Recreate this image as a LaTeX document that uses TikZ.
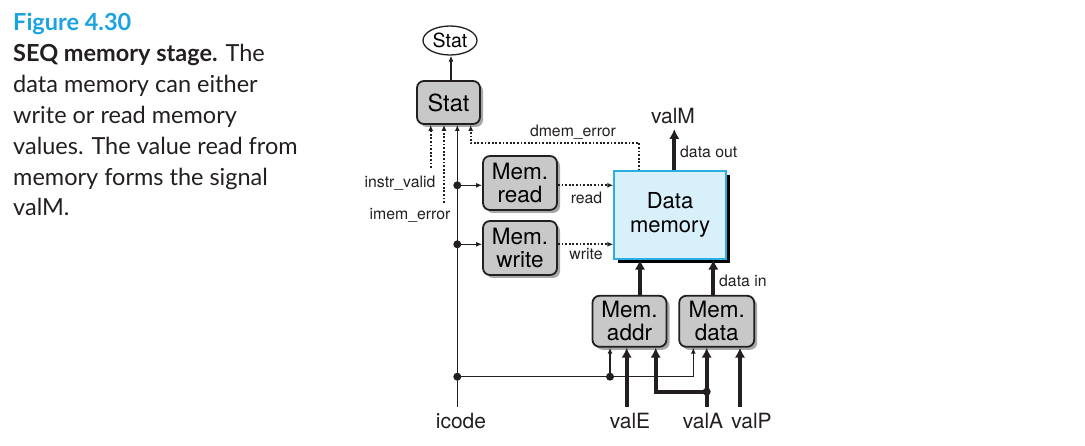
\documentclass[tikz,border=0pt]{standalone}
\usepackage{fontspec}
\setmainfont{TeX Gyre Heros}
\newfontfamily\capfont{Lato}
\usetikzlibrary{arrows.meta,shapes.geometric,shadows}
\definecolor{figblue}{HTML}{1BA3E0}
\definecolor{boxgray}{HTML}{C8C8C8}
\definecolor{shgray}{HTML}{A8A8A8}
\definecolor{memfill}{HTML}{D7F0FA}
\definecolor{memline}{HTML}{2AAFE5}
\definecolor{ink}{HTML}{231F20}
\begin{document}
\begin{tikzpicture}[x=1pt,y=-1pt,
 ctrl/.style={draw=ink, line width=1.8pt, rounded corners=7pt, fill=boxgray,
   minimum width=74pt, minimum height=54pt, align=center, inner sep=0pt,
   font=\fontsize{22.5}{23}\selectfont,
   drop shadow={shadow xshift=3pt, shadow yshift=-3pt, fill=shgray, opacity=1}},
 wthin/.style={line width=1.3pt, draw=ink},
 wthick/.style={line width=4pt, draw=ink},
 wdots/.style={line width=1.8pt, dash pattern=on 1.8pt off 1.8pt, draw=ink},
 tipS/.style={-{Latex[length=6pt,width=5pt]}},
 tipL/.style={-{Latex[length=10pt,width=10.5pt]}},
 lbl/.style={font=\fontsize{15.8}{18}\selectfont, inner sep=0pt, text=ink},
 bigl/.style={font=\fontsize{21}{24}\selectfont, inner sep=0pt, text=ink},
 jdot/.style={circle, fill=ink, inner sep=0pt, minimum size=8pt},
 captxt/.style={anchor=base west, inner sep=0pt, text=ink, font=\capfont\fontsize{23.5}{26}\selectfont},
]
\useasboundingbox (0,0) rectangle (1085,446);

% caption
\node[captxt, text=figblue, font=\capfont\bfseries\fontsize{23.5}{26}\selectfont] (c0) at (13,31) {Figure 4.30};
\node[captxt] (c1) at (13,62) {\textbf{SEQ memory stage.} The};
\node[captxt] (c2) at (13,92.8) {data memory can either};
\node[captxt] (c3) at (13,123.6) {write or read memory};
\node[captxt] (c4) at (13,154.4) {values. The value read from};
\node[captxt] (c5) at (13,185.2) {memory forms the signal};
\node[captxt] (c6) at (13,216) {valM.};

% blocks
\node[ellipse, draw=ink, line width=1.3pt, minimum width=54pt, minimum height=29pt, inner sep=0pt,
  font=\fontsize{19.5}{20}\selectfont] (statE) at (450,40.5) {Stat};
\node[ctrl, minimum width=63pt, minimum height=43pt, font=\fontsize{23.5}{24}\selectfont] (stat) at (448.5,102.5) {Stat};
\node[ctrl] (memread) at (520,183) {Mem.\\read};
\node[ctrl] (memwrite) at (520,248) {Mem.\\write};
\node[draw=memline, fill=memfill, line width=1.3pt, minimum width=112pt, minimum height=88pt,
  align=center, inner sep=0pt, font=\fontsize{22}{24}\selectfont,
  drop shadow={shadow xshift=4pt, shadow yshift=-4pt, fill=black, opacity=1}] (datamem) at (670,215) {Data\\memory};
\node[ctrl, minimum height=51pt] (memaddr) at (629.5,321.3) {Mem.\\addr};
\node[ctrl, minimum width=75pt, minimum height=51pt] (memdata) at (716.7,321.3) {Mem.\\data};

% labels
\node[lbl] (lIV) at (400,182.7) {instr\_valid};
\node[lbl] (lIM) at (410,215) {imem\_error};
\node[lbl] (lDM) at (573,131.7) {dmem\_error};
\node[lbl] (lRd) at (586.5,197.7) {read};
\node[lbl] (lWr) at (586,254) {write};
\node[lbl, anchor=west] (lDO) at (680,152) {data out};
\node[lbl, anchor=west] (lDI) at (719,281) {data in};
\node[bigl] (valM) at (673,116.5) {valM};
\node[bigl] (icode) at (461,420.7) {icode};
\node[bigl] (valE) at (630,420.7) {valE};
\node[bigl] (valA) at (703,420.7) {valA};
\node[bigl] (valP) at (751.5,420.7) {valP};

% coordinates
\coordinate (sx) at (451,0);
\coordinate (ax) at (640,0);
\coordinate (dx) at (713.3,0);
\coordinate (ivT) at (430.7,168);
\coordinate (imT) at (444,203);
\coordinate (icS) at (457.3,406.7);
\coordinate (j1) at (457.3,185.3);
\coordinate (j2) at (457.3,244.3);
\coordinate (j3) at (457.3,376.7);
\coordinate (j4) at (610,376.7);
\coordinate (dtC) at (693.3,376.7);
\coordinate (dmC) at (639.3,143.3);
\coordinate (dmS) at (470.7,143.3);
\coordinate (vmT) at (674.3,129);
\coordinate (veS) at (626.7,406.7);
\coordinate (vaS) at (706.7,406.7);
\coordinate (j5) at (706.7,391.7);
\coordinate (vaL) at (655.7,391.7);
\coordinate (vpS) at (740,406.7);

% connectors
\draw[wthin, tipS] (sx |- stat.north) -- (sx |- statE.south);
\draw[wdots, tipS] (ivT) -- (ivT |- stat.south);
\draw[wdots, tipS] (imT) -- (imT |- stat.south);
\draw[wthin, tipS] (icS) -- (icS |- stat.south);
\draw[wdots, tipS] (dmC |- datamem.north) -- (dmC) -- (dmS) -- (dmS |- stat.south);
\draw[wthin, tipS] (j1) -- (j1 -| memread.west);
\draw[wthin, tipS] (j2) -- (j2 -| memwrite.west);
\draw[wdots, tipS] (j1 -| memread.east) -- (j1 -| datamem.west);
\draw[wdots, tipS] (j2 -| memwrite.east) -- (j2 -| datamem.west);
\draw[wthick, tipL] (vmT |- datamem.north) -- (vmT);
\draw[wthick, tipL] (ax |- memaddr.north) -- (ax |- datamem.south);
\draw[wthick, tipL] (dx |- memdata.north) -- (dx |- datamem.south);
\draw[wthin, tipS] (j3) -- (dtC) -- (dtC |- memdata.south);
\draw[wthin, tipS] (j4) -- (j4 |- memaddr.south);
\draw[wthick, tipL] (veS) -- (veS |- memaddr.south);
\draw[wthick, tipL] (vaS) -- (vaS |- memdata.south);
\draw[wthick, tipL] (j5) -- (vaL) -- (vaL |- memaddr.south);
\draw[wthick, tipL] (vpS) -- (vpS |- memdata.south);

% junction dots
\node[jdot] at (j1) {};
\node[jdot] at (j2) {};
\node[jdot] at (j3) {};
\node[jdot] at (j4) {};
\node[jdot] at (j5) {};
\end{tikzpicture}
\end{document}
